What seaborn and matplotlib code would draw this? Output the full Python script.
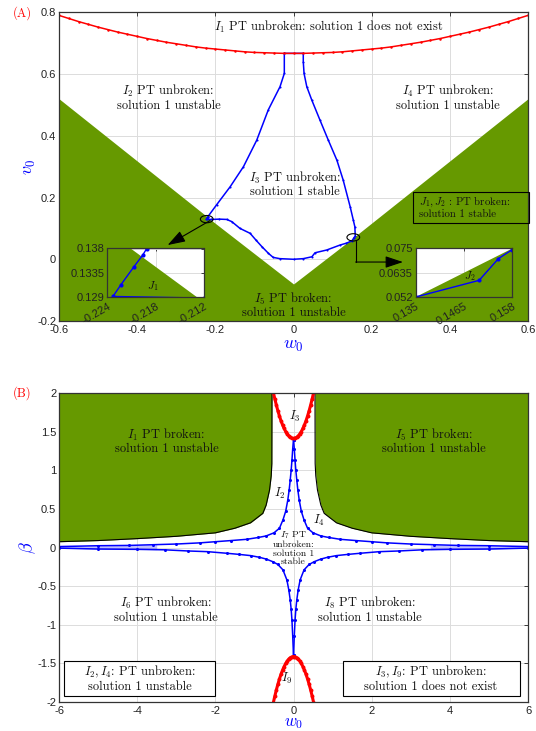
import numpy as np
import matplotlib
matplotlib.use("Agg")
import matplotlib.pyplot as plt
import seaborn as sns
from matplotlib.patches import Ellipse, Rectangle

sns.set_theme(style="white")
plt.rcParams.update({
    "font.family": ["Liberation Sans", "DejaVu Sans"],
    "mathtext.fontset": "cm",
    "axes.unicode_minus": False,
})

GREEN = "#669900"
SERIF = "cmr10"

# ---------------- Panel (A): (w0, v0) plane ----------------
# lower edge of the unstable-broken wedge (green below it)
a_edge_w = [-0.6, -0.2211, -0.2129, 0.0, 0.135, 0.158, 0.6]
a_edge_v = [0.52, 0.138, 0.129, -0.08, 0.052, 0.075, 0.52]

# existence limit of solution 1 (red)
a_red_w = [-0.6, -0.575, -0.55, -0.525, -0.5, -0.475, -0.45, -0.425, -0.4, -0.375,
           -0.35, -0.325, -0.3, -0.275, -0.25, -0.225, -0.2, -0.175, -0.15, -0.125,
           -0.1, -0.075, -0.05, -0.025, 0.0, 0.025, 0.05, 0.075, 0.1, 0.125, 0.15,
           0.175, 0.2, 0.225, 0.25, 0.275, 0.3, 0.325, 0.35, 0.375, 0.4, 0.425,
           0.45, 0.475, 0.5, 0.525, 0.55, 0.575, 0.6]
a_red_v = [0.790, 0.780, 0.770, 0.761, 0.752, 0.744, 0.736, 0.729, 0.722, 0.715,
           0.709, 0.703, 0.698, 0.693, 0.688, 0.684, 0.681, 0.678, 0.675, 0.672,
           0.670, 0.669, 0.668, 0.667, 0.667, 0.667, 0.668, 0.669, 0.670, 0.672, 0.675,
           0.678, 0.681, 0.684, 0.688, 0.693, 0.698, 0.703, 0.709, 0.715, 0.722, 0.729,
           0.736, 0.744, 0.752, 0.761, 0.770, 0.780, 0.790]

# stability boundary of solution 1 (blue, closed loop)
a_blue_w = [-0.0235, -0.0235, -0.0345, -0.0645, -0.094, -0.128, -0.162, -0.197,
            -0.2191, -0.2196, -0.2207, -0.2223, -0.2233, -0.212, -0.190, -0.171,
            -0.158, -0.137, -0.111, -0.096, -0.081, -0.064, -0.052, -0.035, 0.0,
            0.025, 0.047, 0.055, 0.085, 0.119, 0.135, 0.1501, 0.1547, 0.158, 0.157,
            0.153, 0.145, 0.127, 0.111, 0.089, 0.068, 0.047, 0.034, 0.027, 0.025,
            0.025, -0.0235]
a_blue_v = [0.667, 0.602, 0.559, 0.484, 0.386, 0.300, 0.235, 0.176,
            0.138, 0.1368, 0.1346, 0.1313, 0.1291, 0.1288, 0.130, 0.129,
            0.122, 0.100, 0.084, 0.062, 0.041, 0.019, 0.006, 0.002, 0.000,
            0.002, 0.008, 0.021, 0.030, 0.046, 0.052, 0.0599, 0.0702, 0.0745, 0.105,
            0.127, 0.170, 0.257, 0.321, 0.386, 0.450, 0.515, 0.559, 0.602, 0.640,
            0.667, 0.667]

a_xticks = [-0.6, -0.4, -0.2, 0, 0.2, 0.4, 0.6]
a_xlabels = ["-0.6", "-0.4", "-0.2", "0", "0.2", "0.4", "0.6"]
a_yticks = [-0.2, 0, 0.2, 0.4, 0.6, 0.8]
a_ylabels = ["-0.2", "0", "0.2", "0.4", "0.6", "0.8"]

j1_xticks = [-0.224, -0.218, -0.212]
j1_xlabels = ["-0.224", "-0.218", "-0.212"]
j1_yticks = [0.129, 0.1335, 0.138]
j1_ylabels = ["0.129", "0.1335", "0.138"]
j2_xticks = [0.135, 0.1465, 0.158]
j2_xlabels = ["0.135", "0.1465", "0.158"]
j2_yticks = [0.052, 0.0635, 0.075]
j2_ylabels = ["0.052", "0.0635", "0.075"]

# ---------------- Panel (B): (w0, beta) plane ----------------
b_edge_w = [-6.0, -5.0, -4.0, -3.0, -2.0, -1.5, -1.1, -0.785, -0.7, -0.613, -0.57,
            -0.554, -0.55]
b_edge_b = [0.075, 0.09, 0.115, 0.145, 0.19, 0.25, 0.32, 0.443, 0.55, 0.746, 0.93,
            1.09, 2.0]

b_red_w = [-0.52, -0.48, -0.44, -0.4, -0.36, -0.32, -0.28, -0.24, -0.2, -0.16, -0.12,
           -0.08, -0.04, 0.0, 0.04, 0.08, 0.12, 0.16, 0.2, 0.24, 0.28, 0.32, 0.36,
           0.4, 0.44, 0.48, 0.52]
b_red_top = [2.022, 1.932, 1.850, 1.774, 1.706, 1.644, 1.590, 1.544, 1.504, 1.472, 1.446,
             1.428, 1.418, 1.414, 1.418, 1.428, 1.446, 1.472, 1.504, 1.544, 1.590, 1.644,
             1.706, 1.774, 1.850, 1.932, 2.022]
b_red_bot = [-2.022, -1.932, -1.850, -1.774, -1.706, -1.644, -1.590, -1.544, -1.504, -1.472,
             -1.446, -1.428, -1.418, -1.414, -1.418, -1.428, -1.446, -1.472, -1.504, -1.544,
             -1.590, -1.644, -1.706, -1.774, -1.850, -1.932, -2.022]

b_up_w = [-6.0, -5.0, -4.2, -3.6, -3.0, -2.4, -2.0, -1.6, -1.2, -0.9, -0.7, -0.5,
          -0.36, -0.27, -0.2, -0.146, -0.11, -0.084, -0.06, -0.04, -0.02, 0.0]
b_up_b = [0.012, 0.023, 0.027, 0.036, 0.045, 0.06, 0.075, 0.09, 0.106, 0.13, 0.15, 0.19,
          0.25, 0.357, 0.47, 0.616, 0.75, 0.875, 1.0, 1.13, 1.28, 1.40]
b_lo_w = [-6.0, -5.0, -4.0, -3.3, -2.7, -2.2, -1.7, -1.4, -1.1, -0.87, -0.7, -0.53,
          -0.4, -0.27, -0.17, -0.12, -0.084, -0.06, -0.04, -0.02, 0.0]
b_lo_b = [-0.008, -0.02, -0.024, -0.03, -0.045, -0.054, -0.075, -0.089, -0.105, -0.127,
          -0.15, -0.184, -0.22, -0.29, -0.42, -0.55, -0.68, -0.8, -0.94, -1.15, -1.40]

b_xticks = [-6, -4, -2, 0, 2, 4, 6]
b_xlabels = ["-6", "-4", "-2", "0", "2", "4", "6"]
b_yticks = [-2, -1.5, -1, -0.5, 0, 0.5, 1, 1.5, 2]
b_ylabels = ["-2", "-1.5", "-1", "-0.5", "0", "0.5", "1", "1.5", "2"]

W, H = 536, 731
fig = plt.figure(figsize=(W / 100, H / 100), dpi=100)


def px_axes(left, top, right, bottom):
    return fig.add_axes([left / W, 1 - bottom / H, (right - left) / W, (bottom - top) / H])


def style_axes(ax, fs=8):
    ax.set_axisbelow(True)
    ax.grid(True, color="#dcdcdc", lw=0.7)
    ax.tick_params(direction="in", length=3, width=0.6, top=True, right=True,
                   labelsize=fs, colors="#222222")
    ax.tick_params(axis="x", pad=3)
    ax.tick_params(axis="y", pad=2)
    for s in ax.spines.values():
        s.set_color("#333333")
        s.set_linewidth(0.9)
        s.set_visible(True)
    ax.set_facecolor("white")


def blue_line(ax, x, y, lw=1.0, ms=1.5):
    sns.lineplot(x=x, y=y, sort=False, estimator=None, color="blue", lw=lw,
                 marker="o", markersize=ms, markeredgewidth=0,
                 markeredgecolor="blue", ax=ax, legend=False)


# ======== Panel A ========
axA = px_axes(59, 12.3, 528, 321)
style_axes(axA)
axA.fill_between(a_edge_w, -0.2, a_edge_v, color=GREEN, lw=0, zorder=1)
blue_line(axA, a_blue_w, a_blue_v, lw=1.1)
sns.lineplot(x=a_red_w, y=a_red_v, sort=False, estimator=None, color="red", lw=1.1,
             marker="o", markersize=1.8, markeredgewidth=0, markeredgecolor="red",
             ax=axA, legend=False)
axA.set_xlim(-0.6, 0.6)
axA.set_ylim(-0.2, 0.8)
axA.set_xticks(a_xticks, a_xlabels)
axA.set_yticks(a_yticks, a_ylabels)
axA.set_xlabel("$w_0$", color="blue", fontsize=13, labelpad=1)
axA.set_ylabel("$v_0$", color="blue", fontsize=13)
axA.yaxis.set_label_coords(-0.044, 0.5)

tkw = dict(fontfamily=SERIF, fontsize=9, color="#111111", ha="center", va="center",
           linespacing=1.05)
axA.text(0.09, 0.752, "$I_1$ PT unbroken: solution 1 does not exist", **tkw)
axA.text(-0.32, 0.525, "$I_2$ PT unbroken:\nsolution 1 unstable", **tkw)
axA.text(0.395, 0.525, "$I_4$ PT unbroken:\nsolution 1 unstable", **tkw)
axA.text(0.004, 0.244, "$I_3$ PT unbroken:\nsolution 1 stable", **tkw)
axA.text(0.0, -0.148, "$I_5$ PT broken:\nsolution 1 unstable", **tkw)

# marked crossing points and their zoom arrows
axA.add_patch(Ellipse((-0.222, 0.130), 0.0325, 0.0236, fill=False, ec="black", lw=0.8, zorder=5))
axA.add_patch(Ellipse((0.153, 0.071), 0.0325, 0.0236, fill=False, ec="black", lw=0.8, zorder=5))
axA.annotate("", xy=(-0.322, 0.046), xytext=(-0.214, 0.125),
             arrowprops=dict(arrowstyle="-|>,head_length=0.9,head_width=0.3",
                             color="black", lw=0.8, shrinkA=0, shrinkB=0), zorder=6)
axA.plot([0.160, 0.160], [0.060, -0.009], color="black", lw=0.8, zorder=6)
axA.annotate("", xy=(0.280, -0.009), xytext=(0.159, -0.009),
             arrowprops=dict(arrowstyle="-|>,head_length=0.9,head_width=0.3",
                             color="black", lw=0.8, shrinkA=0, shrinkB=0), zorder=6)

axA.add_patch(Rectangle((0.305, 0.118), 0.297, 0.099, fill=False, ec="black", lw=0.8,
                        zorder=6, clip_on=False))
axA.text(0.322, 0.170, "$J_1, J_2$ : PT broken:\nsolution 1 stable", fontfamily=SERIF,
         fontsize=7.8, color="#111111", ha="left", va="center", linespacing=1.1, zorder=7)

# insets J1 and J2
for (l, r), xl, yl, xt, xtl, yt, ytl, lab, lpos in [
        ((107.3, 204), (-0.224, -0.212), (0.129, 0.138), j1_xticks, j1_xlabels,
         j1_yticks, j1_ylabels, "$J_1$", (-0.2184, 0.1311)),
        ((415.7, 512.3), (0.135, 0.158), (0.052, 0.075), j2_xticks, j2_xlabels,
         j2_yticks, j2_ylabels, "$J_2$", (0.1479, 0.0621))]:
    axi = px_axes(l, 248.5, r, 297)
    style_axes(axi)
    axi.tick_params(length=2.5)
    axi.fill_between(a_edge_w, -0.2, a_edge_v, color=GREEN, lw=0, zorder=1)
    blue_line(axi, a_blue_w, a_blue_v, lw=1.0, ms=3.0)
    axi.set_xlim(*xl)
    axi.set_ylim(*yl)
    axi.set_xticks(xt, xtl)
    axi.set_yticks(yt, ytl)
    plt.setp(axi.get_xticklabels(), rotation=30, ha="right", rotation_mode="anchor")
    axi.set_xlabel("")
    axi.set_ylabel("")
    axi.text(*lpos, lab, fontsize=8, color="#111111", ha="center", va="center")

# ======== Panel B ========
axB = px_axes(59, 393.3, 528, 701.7)
style_axes(axB)
b_edge_w_r = [-w for w in b_edge_w]
axB.fill_between(b_edge_w, b_edge_b, 2.0, color=GREEN, lw=0, zorder=1)
axB.fill_between(b_edge_w_r, b_edge_b, 2.0, color=GREEN, lw=0, zorder=1)
axB.plot(b_edge_w, b_edge_b, color="black", lw=0.8, zorder=2)
axB.plot(b_edge_w_r, b_edge_b, color="black", lw=0.8, zorder=2)

# faint band where the two stability branches run together
for sgn in (-1, 1):
    band_w = np.array([3.5, 4.0, 4.5, 5.0, 5.5, 6.0]) * sgn
    up = np.interp(np.abs(band_w), [-w for w in b_up_w[::-1]], b_up_b[::-1])
    lo = np.interp(np.abs(band_w), [-w for w in b_lo_w[::-1]], b_lo_b[::-1])
    axB.fill_between(band_w, lo, up, color="blue", alpha=0.25, lw=0, zorder=2)

for ws, bs in [(b_up_w, b_up_b), (b_lo_w, b_lo_b)]:
    blue_line(axB, ws, bs, lw=1.1, ms=2.2)
    blue_line(axB, [-w for w in ws], bs, lw=1.1, ms=2.2)
for bs in (b_red_top, b_red_bot):
    sns.lineplot(x=b_red_w, y=bs, sort=False, estimator=None, color="red", lw=2.2,
                 marker="o", markersize=2.8, markeredgewidth=0, markeredgecolor="red",
                 ax=axB, legend=False)

axB.set_xlim(-6, 6)
axB.set_ylim(-2, 2)
axB.set_xticks(b_xticks, b_xlabels)
axB.set_yticks(b_yticks, b_ylabels)
axB.set_xlabel("$w_0$", color="blue", fontsize=12, labelpad=0)
axB.set_ylabel(r"$\beta$", color="blue", fontsize=13)
axB.yaxis.set_label_coords(-0.044, 0.5)

axB.text(-3.25, 1.38, "$I_1$ PT broken:\nsolution 1 unstable", **tkw)
axB.text(3.6, 1.38, "$I_5$ PT broken:\nsolution 1 unstable", **tkw)
axB.text(0.04, 1.70, "$I_3$", **tkw)
axB.text(-0.36, 0.70, "$I_2$", **tkw)
axB.text(0.65, 0.35, "$I_4$", **tkw)
axB.text(0.0, 0.0, "$I_7$ PT\nunbroken:\nsolution 1\nstable", fontfamily=SERIF,
         fontsize=7, color="#111111", ha="center", va="center", linespacing=1.0)
axB.text(-3.27, -0.80, "$I_6$ PT unbroken:\nsolution 1 unstable", **tkw)
axB.text(1.95, -0.80, "$I_8$ PT unbroken:\nsolution 1 unstable", **tkw)
axB.text(-0.17, -1.70, "$I_9$", **tkw)

axB.add_patch(Rectangle((-5.87, -1.93), 3.87, 0.46, fc="white", ec="black", lw=0.8, zorder=6))
axB.text(-3.93, -1.70, "$I_2, I_4$: PT unbroken:\nsolution 1 unstable", zorder=7, **tkw)
axB.add_patch(Rectangle((1.26, -1.93), 4.53, 0.46, fc="white", ec="black", lw=0.8, zorder=6))
axB.text(3.52, -1.70, "$I_3, I_9$: PT unbroken:\nsolution 1 does not exist", zorder=7, **tkw)

fig.text(22 / W, 1 - 13 / H, "(A)", fontfamily=SERIF, fontsize=9, color="red",
         ha="center", va="center")
fig.text(22 / W, 1 - 393 / H, "(B)", fontfamily=SERIF, fontsize=9, color="red",
         ha="center", va="center")

fig.savefig("out.png", dpi=100)
